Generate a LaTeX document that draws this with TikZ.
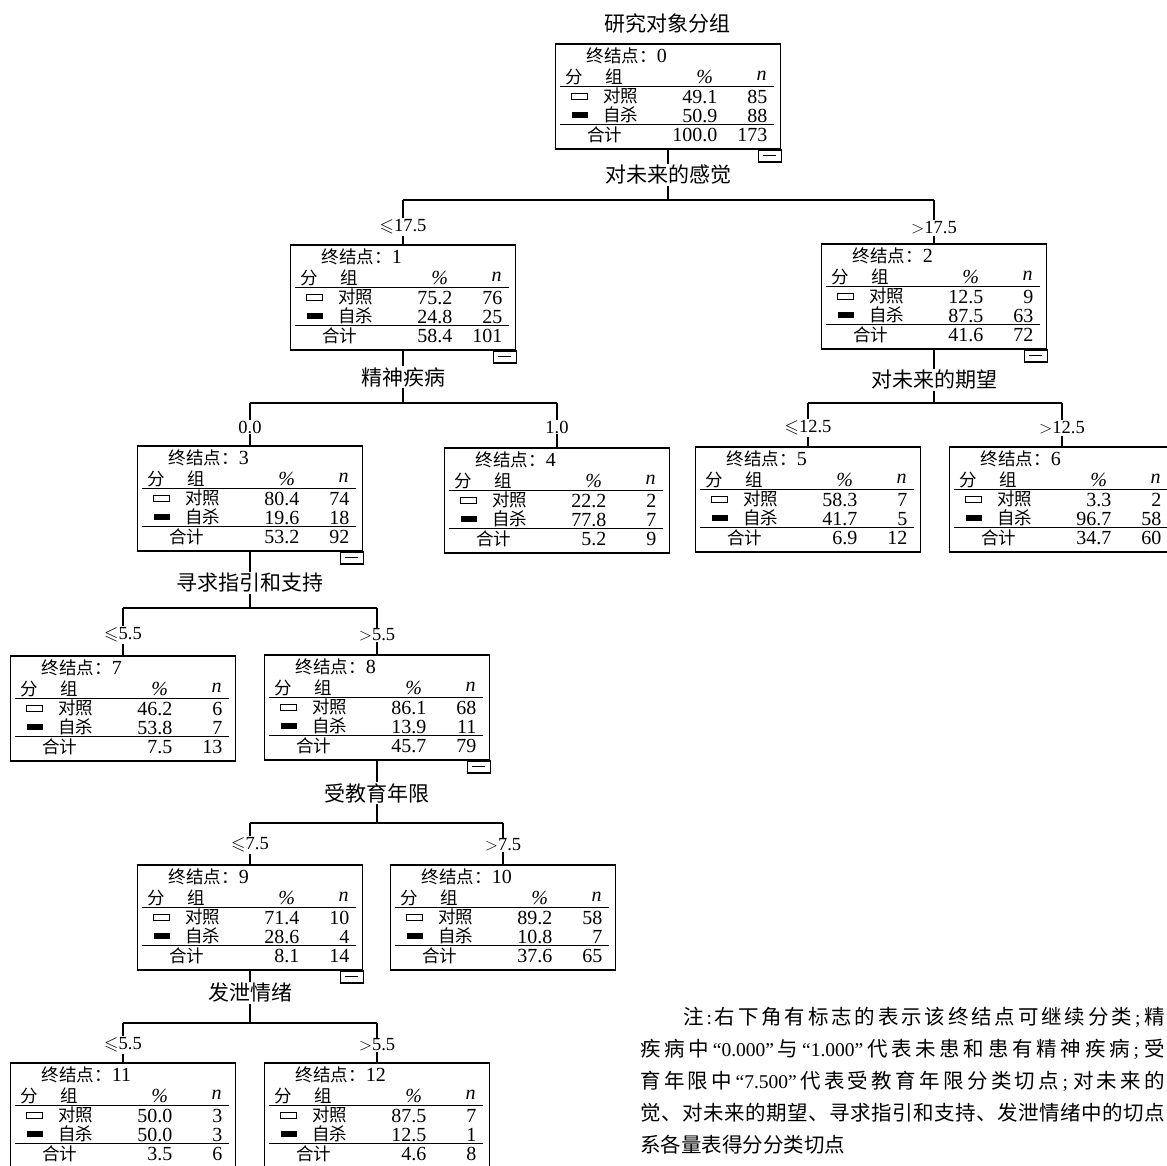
\documentclass[tikz,border=0pt]{standalone}
\usepackage{amssymb}
\usepackage{fontspec}
\setmainfont{Liberation Serif}
\newfontfamily\cjk{Noto Sans CJK SC}
\usetikzlibrary{calc}
\newcommand\fsz[1]{\fontsize{#1}{#1}\selectfont}
\tikzset{
  tbox/.style={draw, line width=1.8pt, minimum width=225pt, minimum height=105pt, anchor=north, inner sep=0pt},
  inl/.style={line width=0.9pt},
  conn/.style={line width=1.7pt},
  lbl/.style={inner sep=1.5pt, font={\cjk\fsz{21}}},
  brl/.style={inner sep=1pt, font={\fsz{18.5}}},
  tc/.style={inner sep=0pt, font={\cjk\fsz{17.5}}},
  tn/.style={inner sep=0pt, font={\fsz{20}}},
  mk/.style={line width=1.6pt},
}
\newcommand\tnode[9]{%
  \node[tbox] (#1) at (#2,#3) {};
  \node[tc, anchor=west] (#1-id) at ($(#1.north west)+(32,13)$) {终结点：{\rmfamily\fsz{20}#4}};
  \node[tc] (#1-h1) at ($(#1.north west)+(20,34)$) {分};
  \node[tc] (#1-h2) at ($(#1.north west)+(60,34)$) {组};
  \node[tn] (#1-h3) at ($(#1.north west)+(150,34)$) {\textit{\%}};
  \node[tn] (#1-h4) at ($(#1.north west)+(207,33)$) {\textit{n}};
  \draw[inl] ($(#1.north west)+(5,43)$) -- ($(#1.north west)+(219,43)$);
  \draw[line width=0.9pt] ($(#1.north west)+(17,50)$) rectangle ($(#1.north west)+(33,56)$);
  \node[tc] (#1-r1) at ($(#1.north west)+(66,53)$) {对照};
  \node[tn, anchor=east] (#1-p1) at ($(#1.north west)+(163,54)$) {#5};
  \node[tn, anchor=east] (#1-n1) at ($(#1.north west)+(213,54)$) {#6};
  \fill ($(#1.north west)+(17,69)$) rectangle ($(#1.north west)+(33,75)$);
  \node[tc] (#1-r2) at ($(#1.north west)+(66,72)$) {自杀};
  \node[tn, anchor=east] (#1-p2) at ($(#1.north west)+(163,73)$) {#7};
  \node[tn, anchor=east] (#1-n2) at ($(#1.north west)+(213,73)$) {#8};
  \draw[inl] ($(#1.north west)+(5,81)$) -- ($(#1.north west)+(219,81)$);
  \node[tc] (#1-r3) at ($(#1.north west)+(50,92)$) {合计};
  \node[tn, anchor=east] (#1-p3) at ($(#1.north west)+(163,92)$) {#9};
  \def\tmpnm{#1}\tnodetail}
\newcommand\tnodetail[1]{%
  \node[tn, anchor=east] (\tmpnm-n3) at ($(\tmpnm.north west)+(213,92)$) {#1};}
\newcommand\tmark[1]{%
  \draw[mk] ($(#1.south east)+(-23,0)$) rectangle ($(#1.south east)+(0,12)$);
  \draw[line width=1pt] ($(#1.south east)+(-18,6)$) -- ($(#1.south east)+(-5,6)$);}
\newcommand\jline[2]{\makebox[#1][s]{\cjk\fsz{20.5}\spaceskip=0pt plus 1fil\xspaceskip=0pt plus 1fil #2}}
\newcommand\lt[1]{{\rmfamily\fsz{19.5}#1}}
\begin{document}
\begin{tikzpicture}[x=1pt, y=-1pt]
\useasboundingbox (0,0) rectangle (1167,1166);
% title
\node[lbl] (title) at (667,23) {研究对象分组};
% tree nodes
\tnode{n0}{668}{43}{0}{49.1}{85}{50.9}{88}{100.0}{173}
\tnode{n1}{403}{244}{1}{75.2}{76}{24.8}{25}{58.4}{101}
\tnode{n2}{934}{243}{2}{12.5}{9}{87.5}{63}{41.6}{72}
\tnode{n3}{250}{445}{3}{80.4}{74}{19.6}{18}{53.2}{92}
\tnode{n4}{557}{447}{4}{22.2}{2}{77.8}{7}{5.2}{9}
\tnode{n5}{808}{446}{5}{58.3}{7}{41.7}{5}{6.9}{12}
\tnode{n6}{1062}{446}{6}{3.3}{2}{96.7}{58}{34.7}{60}
\tnode{n7}{123}{655}{7}{46.2}{6}{53.8}{7}{7.5}{13}
\tnode{n8}{377}{654}{8}{86.1}{68}{13.9}{11}{45.7}{79}
\tnode{n9}{250}{864}{9}{71.4}{10}{28.6}{4}{8.1}{14}
\tnode{n10}{503}{864}{10}{89.2}{58}{10.8}{7}{37.6}{65}
\tnode{n11}{123}{1062}{11}{50.0}{3}{50.0}{3}{3.5}{6}
\tnode{n12}{377}{1062}{12}{87.5}{7}{12.5}{1}{4.6}{8}
\tmark{n0}\tmark{n1}\tmark{n2}\tmark{n3}\tmark{n8}\tmark{n9}
% split labels
\node[lbl] (s0) at (668,175) {对未来的感觉};
\node[lbl] (s1) at (403,377) {精神疾病};
\node[lbl] (s2) at (934,380) {对未来的期望};
\node[lbl] (s3) at (250,583) {寻求指引和支持};
\node[lbl] (s8) at (377,793) {受教育年限};
\node[lbl] (s9) at (250,993) {发泄情绪};
% branch labels
\node[brl] (b1) at (403,227) {$\leqslant$17.5};
\node[brl] (b2) at (934,228) {$>$17.5};
\node[brl] (b3) at (250,427) {0.0};
\node[brl] (b4) at (557,427) {1.0};
\node[brl] (b5) at (808,428) {$\leqslant$12.5};
\node[brl] (b6) at (1062,428) {$>$12.5};
\node[brl] (b7) at (123,635) {$\leqslant$5.5};
\node[brl] (b8) at (377,635) {$>$5.5};
\node[brl] (b9) at (250,845) {$\leqslant$7.5};
\node[brl] (b10) at (503,845) {$>$7.5};
\node[brl] (b11) at (123,1045) {$\leqslant$5.5};
\node[brl] (b12) at (377,1045) {$>$5.5};
% junction coordinates
\coordinate (h0) at (668,200); \coordinate (h0a) at (403,200); \coordinate (h0b) at (934,200);
\coordinate (h1) at (403,403); \coordinate (h1a) at (250,403); \coordinate (h1b) at (557,403);
\coordinate (h2) at (934,403); \coordinate (h2a) at (808,403); \coordinate (h2b) at (1062,403);
\coordinate (h3) at (250,608); \coordinate (h3a) at (123,608); \coordinate (h3b) at (377,608);
\coordinate (h8) at (377,823); \coordinate (h8a) at (250,823); \coordinate (h8b) at (503,823);
\coordinate (h9) at (250,1023); \coordinate (h9a) at (123,1023); \coordinate (h9b) at (377,1023);
% connectors
\draw[conn] (n0.south) -- (s0.north); \draw[conn] (s0.south) -- (h0); \draw[conn] (h0a) -- (h0b);
\draw[conn] (h0a) -- (b1.north); \draw[conn] (b1.south) -- (n1.north);
\draw[conn] (h0b) -- (b2.north); \draw[conn] (b2.south) -- (n2.north);
\draw[conn] (n1.south) -- (s1.north); \draw[conn] (s1.south) -- (h1); \draw[conn] (h1a) -- (h1b);
\draw[conn] (h1a) -- (b3.north); \draw[conn] (b3.south) -- (n3.north);
\draw[conn] (h1b) -- (b4.north); \draw[conn] (b4.south) -- (n4.north);
\draw[conn] (n2.south) -- (s2.north); \draw[conn] (s2.south) -- (h2); \draw[conn] (h2a) -- (h2b);
\draw[conn] (h2a) -- (b5.north); \draw[conn] (b5.south) -- (n5.north);
\draw[conn] (h2b) -- (b6.north); \draw[conn] (b6.south) -- (n6.north);
\draw[conn] (n3.south) -- (s3.north); \draw[conn] (s3.south) -- (h3); \draw[conn] (h3a) -- (h3b);
\draw[conn] (h3a) -- (b7.north); \draw[conn] (b7.south) -- (n7.north);
\draw[conn] (h3b) -- (b8.north); \draw[conn] (b8.south) -- (n8.north);
\draw[conn] (n8.south) -- (s8.north); \draw[conn] (s8.south) -- (h8); \draw[conn] (h8a) -- (h8b);
\draw[conn] (h8a) -- (b9.north); \draw[conn] (b9.south) -- (n9.north);
\draw[conn] (h8b) -- (b10.north); \draw[conn] (b10.south) -- (n10.north);
\draw[conn] (n9.south) -- (s9.north); \draw[conn] (s9.south) -- (h9); \draw[conn] (h9a) -- (h9b);
\draw[conn] (h9a) -- (b11.north); \draw[conn] (b11.south) -- (n11.north);
\draw[conn] (h9b) -- (b12.north); \draw[conn] (b12.south) -- (n12.north);
% note
\node[anchor=west, inner sep=0pt] (note1) at (683,1017) {\jline{482pt}{注 \lt{:} 右 下 角 有 标 志 的 表 示 该 终 结 点 可 继 续 分 类 \lt{;} 精}};
\node[anchor=west, inner sep=0pt] (note2) at (640,1049) {\jline{525pt}{疾 病 中 \lt{“0.000”} 与 \lt{“1.000”} 代 表 未 患 和 患 有 精 神 疾 病 \lt{;} 受}};
\node[anchor=west, inner sep=0pt] (note3) at (640,1081) {\jline{525pt}{育 年 限 中 \lt{“7.500”} 代 表 受 教 育 年 限 分 类 切 点 \lt{;} 对 未 来 的}};
\node[anchor=west, inner sep=0pt] (note4) at (640,1113) {\jline{525pt}{觉 、 对 未 来 的 期 望 、 寻 求 指 引 和 支 持 、 发 泄 情 绪 中 的 切 点}};
\node[anchor=west, inner sep=0pt, font={\cjk\fsz{20.5}}] (note5) at (640,1145) {系各量表得分分类切点};
\end{tikzpicture}
\end{document}
